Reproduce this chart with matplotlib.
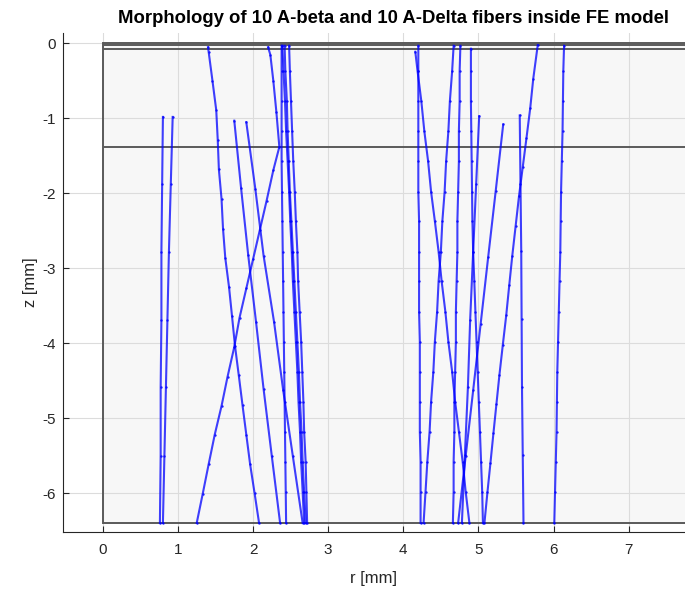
import matplotlib
matplotlib.use("Agg")
import matplotlib.pyplot as plt
from matplotlib.patches import Rectangle

# ---- layer boundaries of the FE model (z in mm) ----
layer_z = [0.0, -0.015, -0.075, -1.38, -6.4]
model_r_max = 8.5

# ---- fibers (r, z), bottom -> top ----
f1_r = [0.76, 0.77, 0.77, 0.78, 0.78, 0.79, 0.80]
f1_z = [-6.4, -5.5, -4.59, -3.69, -2.78, -1.87, -0.98]
f2_r = [0.80, 0.82, 0.84, 0.86, 0.88, 0.905, 0.93]
f2_z = [-6.4, -5.5, -4.59, -3.69, -2.78, -1.87, -0.98]
f3_r = [2.08, 2.02, 1.96, 1.91, 1.86, 1.81, 1.76, 1.72, 1.68, 1.63, 1.60, 1.58, 1.545, 1.53, 1.51, 1.46, 1.41, 1.40]
f3_z = [-6.4, -6.0, -5.61, -5.22, -4.83, -4.43, -4.04, -3.64, -3.25, -2.86, -2.47, -2.07, -1.68, -1.29, -0.89, -0.5, -0.12, -0.05]
f4_r = [2.36, 2.25, 2.14, 2.04, 1.935, 1.84, 1.75]
f4_z = [-6.4, -5.51, -4.61, -3.72, -2.82, -1.925, -1.03]
f5_r = [2.66, 2.53, 2.40, 2.28, 2.14, 2.03, 1.91]
f5_z = [-6.4, -5.51, -4.62, -3.72, -2.83, -1.94, -1.05]
f6_r = [1.25, 1.33, 1.41, 1.49, 1.58, 1.66, 1.75, 1.82, 1.91, 2.00, 2.09, 2.18, 2.27, 2.35, 2.31, 2.27, 2.23, 2.20]
f6_z = [-6.4, -6.01, -5.61, -5.22, -4.84, -4.45, -4.05, -3.66, -3.27, -2.88, -2.49, -2.10, -1.69, -1.38, -0.91, -0.5, -0.15, -0.05]
z_nodes = [-6.4, -5.98, -5.58, -5.18, -4.78, -4.38, -3.98, -3.58, -3.17, -2.78, -2.37, -1.98, -1.57, -1.17, -0.77, -0.37, -0.03]
f7_r = [2.44, 2.435, 2.43, 2.425, 2.42, 2.415, 2.41, 2.405, 2.40, 2.395, 2.39, 2.385, 2.38, 2.38, 2.38, 2.38, 2.38]
f8_r = [2.70, 2.68, 2.66, 2.645, 2.625, 2.61, 2.59, 2.57, 2.55, 2.53, 2.51, 2.49, 2.475, 2.46, 2.45, 2.43, 2.42]
f9_r = [2.72, 2.71, 2.70, 2.68, 2.67, 2.655, 2.64, 2.62, 2.60, 2.59, 2.57, 2.555, 2.535, 2.52, 2.505, 2.49, 2.48]
f10_r = [2.68, 2.66, 2.64, 2.625, 2.605, 2.59, 2.57, 2.55, 2.53, 2.515, 2.495, 2.48, 2.46, 2.44, 2.425, 2.405, 2.39]

g1_r = [4.23, 4.23, 4.23, 4.22, 4.22, 4.22, 4.22, 4.21, 4.21, 4.21, 4.21, 4.20, 4.20, 4.20, 4.20, 4.20, 4.20]
g2_r = [4.88, 4.83, 4.79, 4.74, 4.69, 4.65, 4.60, 4.56, 4.51, 4.47, 4.42, 4.37, 4.33, 4.28, 4.24, 4.19, 4.16]
g2_z = [-6.4, -5.98, -5.58, -5.18, -4.78, -4.38, -3.98, -3.58, -3.17, -2.78, -2.37, -1.98, -1.57, -1.17, -0.77, -0.37, -0.11]
g3_r = [4.27, 4.296, 4.32, 4.35, 4.37, 4.40, 4.42, 4.45, 4.47, 4.50, 4.52, 4.55, 4.57, 4.60, 4.62, 4.65, 4.67]
g4_r = [4.66, 4.67, 4.67, 4.68, 4.68, 4.69, 4.70, 4.70, 4.71, 4.72, 4.72, 4.73, 4.74, 4.74, 4.75, 4.75, 4.76]
g5_r = [5.06, 5.05, 5.035, 5.02, 5.005, 4.99, 4.975, 4.96, 4.945, 4.93, 4.92, 4.915, 4.91, 4.905, 4.90, 4.90, 4.90]
g5_z = [-6.4, -5.98, -5.58, -5.18, -4.78, -4.38, -3.98, -3.58, -3.17, -2.78, -2.37, -1.98, -1.57, -1.17, -0.77, -0.37, -0.07]
g6_r = [4.78, 4.82, 4.86, 4.89, 4.93, 4.97, 5.01]
g6_z = [-6.4, -5.49, -4.59, -3.69, -2.78, -1.875, -0.97]
g7_r = [4.73, 4.83, 4.93, 5.03, 5.13, 5.23, 5.33]
g7_z = [-6.4, -5.51, -4.63, -3.74, -2.85, -1.97, -1.08]
g8_r = [5.08, 5.12, 5.16, 5.20, 5.24, 5.28, 5.325, 5.37, 5.41, 5.45, 5.495, 5.54, 5.59, 5.64, 5.69, 5.73, 5.79]
g8_z = [-6.4, -5.99, -5.6, -5.2, -4.81, -4.42, -4.02, -3.63, -3.23, -2.84, -2.44, -2.04, -1.65, -1.26, -0.86, -0.47, -0.02]
g9_r = [5.60, 5.59, 5.58, 5.575, 5.57, 5.56, 5.55]
g9_z = [-6.4, -5.49, -4.59, -3.68, -2.77, -1.87, -0.96]
g10_r = [6.01, 6.02, 6.03, 6.04, 6.045, 6.05, 6.06, 6.07, 6.08, 6.09, 6.095, 6.10, 6.11, 6.12, 6.125, 6.13, 6.14]

fibers = [
    (f1_r, f1_z), (f2_r, f2_z), (f3_r, f3_z), (f4_r, f4_z), (f5_r, f5_z),
    (f6_r, f6_z), (f7_r, z_nodes), (f8_r, z_nodes), (f9_r, z_nodes), (f10_r, z_nodes),
    (g1_r, z_nodes), (g2_r, g2_z), (g3_r, z_nodes), (g4_r, z_nodes), (g5_r, g5_z),
    (g6_r, g6_z), (g7_r, g7_z), (g8_r, g8_z), (g9_r, g9_z), (g10_r, z_nodes),
]

x_ticks = [0, 1, 2, 3, 4, 5, 6, 7]
y_ticks = [0, -1, -2, -3, -4, -5, -6]

plt.rcParams['font.family'] = ['Liberation Sans', 'DejaVu Sans']

fig = plt.figure(figsize=(6.85, 5.90), dpi=100)
ax = fig.add_axes([63 / 685, 58 / 590, 622 / 685, 499 / 590])

ax.set_xlim(-0.53, 7.75)
ax.set_ylim(-6.52, 0.14)

# model region
ax.add_patch(Rectangle((0, layer_z[-1]), model_r_max, -layer_z[-1], facecolor='#f7f7f7',
                       edgecolor='none', zorder=0.5))
for z in layer_z:
    ax.plot([0, model_r_max], [z, z], color='#5a5a5a', lw=1.4, zorder=1.6, solid_capstyle='butt')
ax.plot([0, 0], [layer_z[-1], layer_z[0]], color='#5a5a5a', lw=1.4, zorder=1.6)

for r, z in fibers:
    ax.plot(r, z, color=(0, 0, 1, 0.75), lw=1.5, marker='.', ms=3.5,
            markerfacecolor=(0, 0, 1, 0.8), markeredgecolor='none', zorder=3)

ax.set_xticks(x_ticks)
ax.set_yticks(y_ticks)
ax.set_yticklabels([str(v) if v == 0 else '-' + str(-v) for v in y_ticks])
ax.set_axisbelow('line')
ax.grid(True, color='#dcdcdc', lw=0.8)
ax.tick_params(direction='in', length=4, colors='#262626', labelsize=11, width=0.8,
               top=False, right=False)
ax.tick_params(axis='x', pad=8)
ax.tick_params(axis='y', pad=5)
for side in ['top', 'right']:
    ax.spines[side].set_visible(False)
for side in ['left', 'bottom']:
    ax.spines[side].set_color('#262626')
    ax.spines[side].set_linewidth(0.8)

ax.set_xlabel('r [mm]', fontsize=12, color='#262626', labelpad=10)
ax.set_ylabel('z [mm]', fontsize=12, color='#262626', labelpad=3)
ax.set_title('Morphology of 10 A-beta and 10 A-Delta fibers inside FE model',
             fontsize=13.3, fontweight='bold', color='black', pad=7, x=0.531)

fig.savefig('out.png', dpi=100)
